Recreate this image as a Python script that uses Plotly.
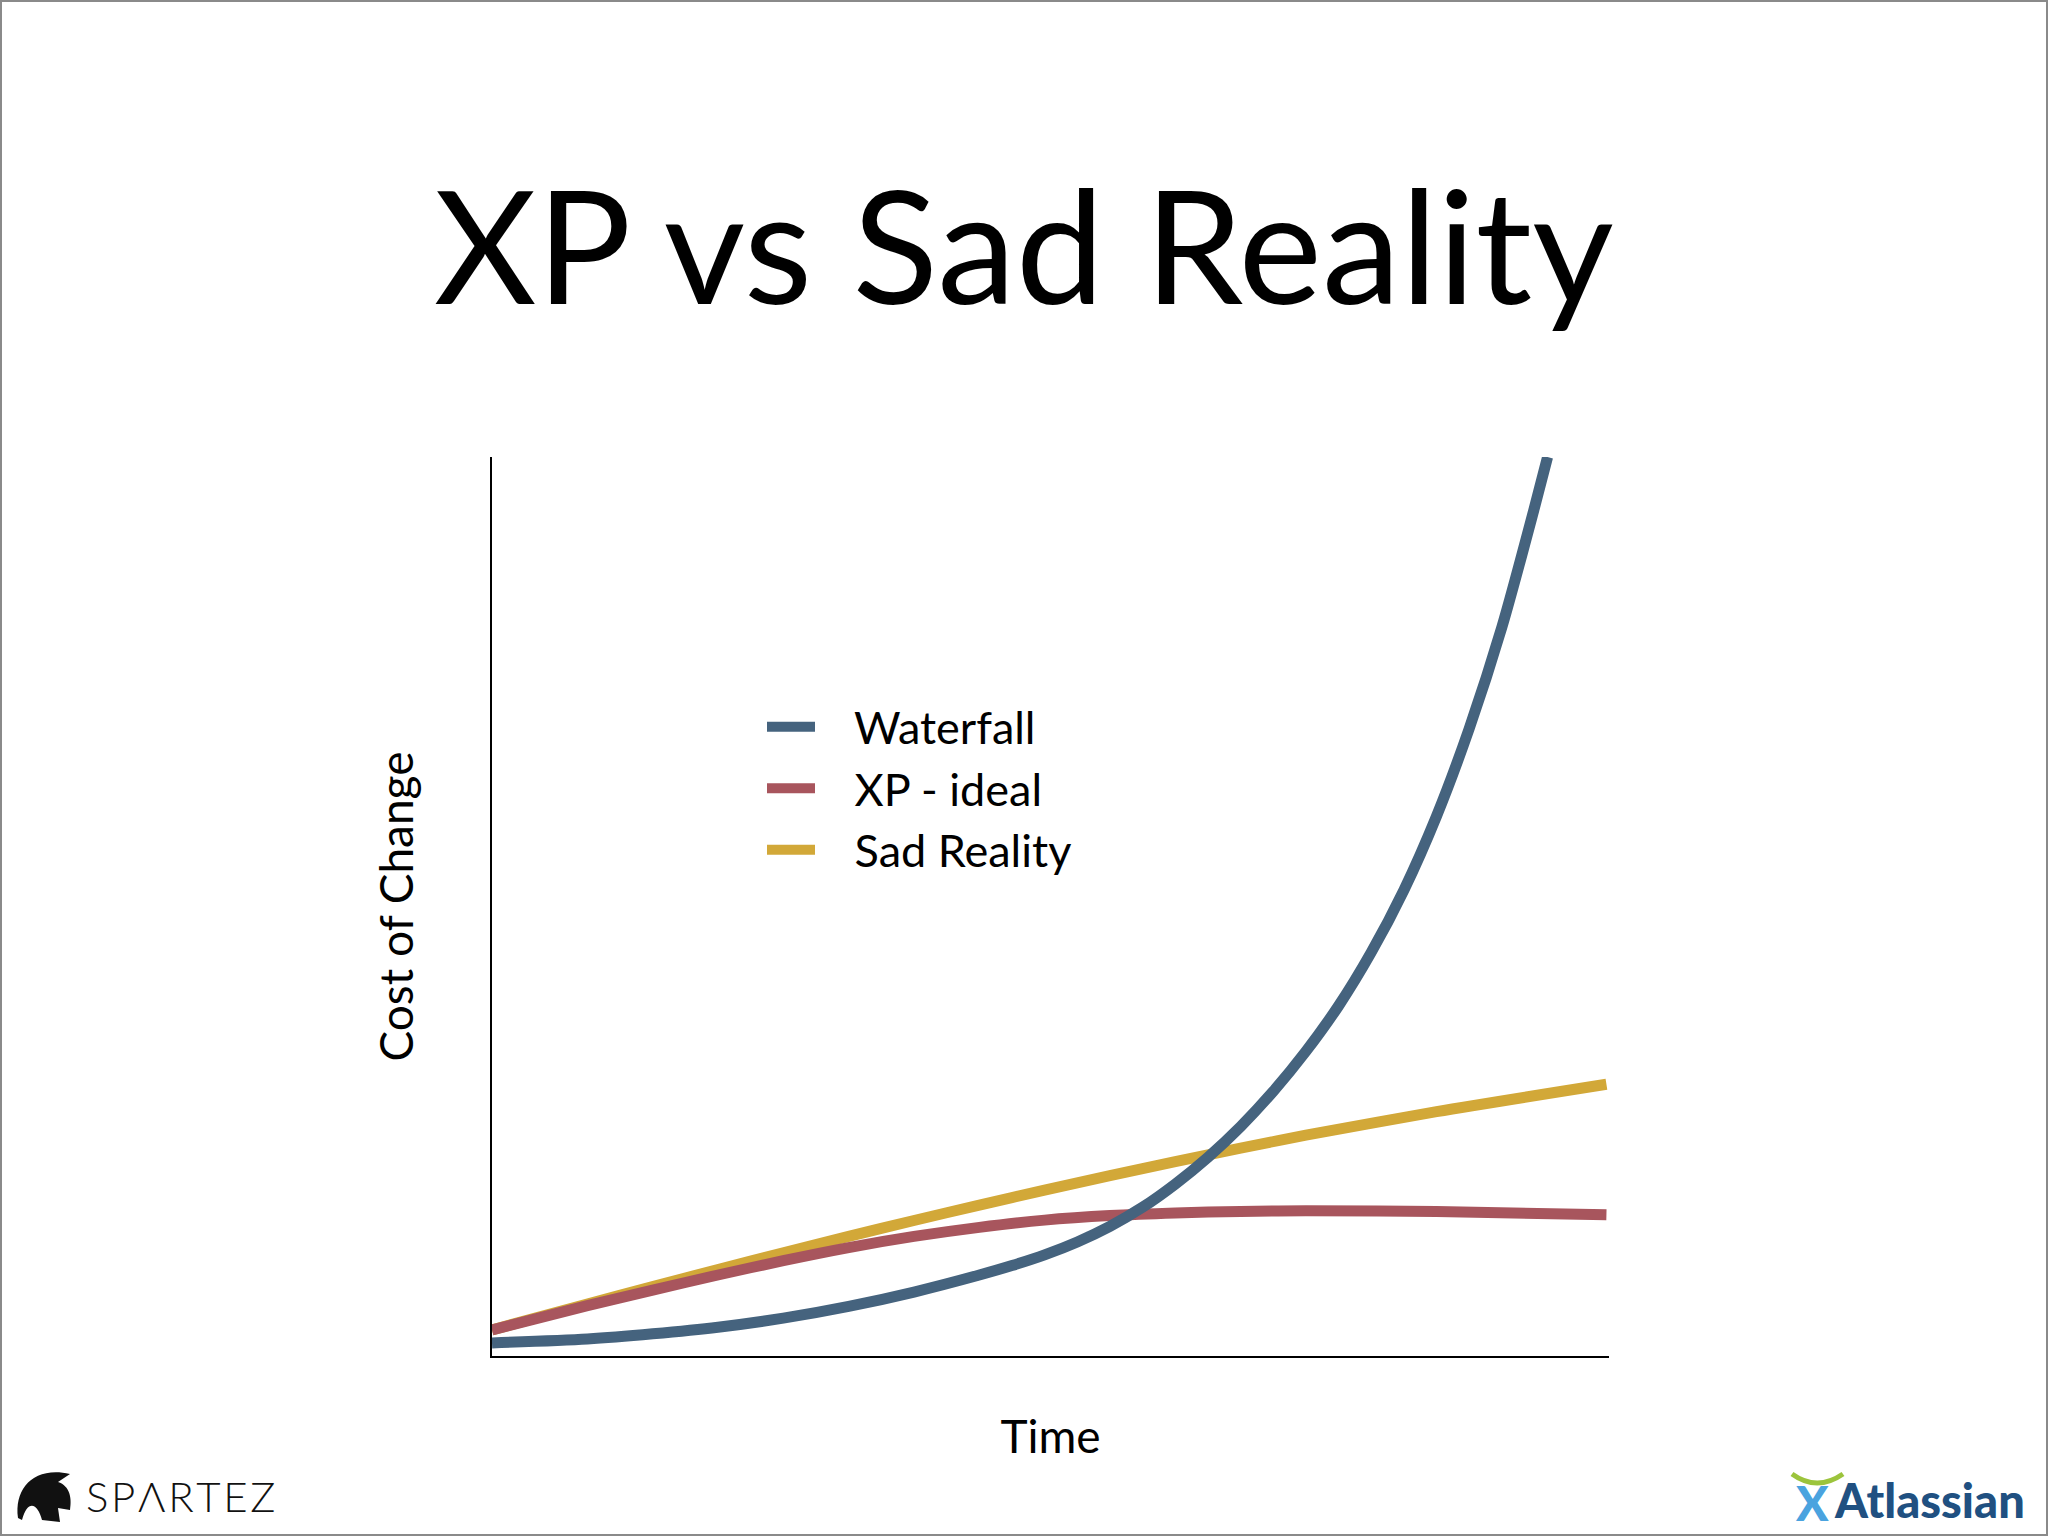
import plotly.graph_objects as go

# ---- data ----
waterfall_x = [0, 0.854, 1.439, 2.023, 2.608, 3.193, 3.778, 4.363, 4.655, 4.947, 5.240,
               5.532, 5.825, 6.117, 6.409, 6.702, 6.994, 7.287, 7.579, 7.871, 8.164,
               8.456, 8.748, 9.041, 9.333, 9.450]
waterfall_y = [0.147, 0.191, 0.249, 0.323, 0.425, 0.557, 0.718, 0.909, 1.015, 1.135, 1.280,
               1.455, 1.670, 1.930, 2.230, 2.575, 2.970, 3.420, 3.930, 4.530, 5.230,
               6.060, 7.040, 8.180, 9.523, 10.09]

xp_x = [0, 0.854, 1.439, 2.023, 2.608, 3.193, 3.778, 4.363, 4.947, 5.532, 6.117, 6.702,
        7.287, 8.456, 9.977]
xp_y = [0.293, 0.565, 0.740, 0.909, 1.070, 1.217, 1.342, 1.444, 1.525, 1.576, 1.606, 1.623,
        1.630, 1.623, 1.584]

sad_x = [0, 0.854, 1.439, 2.023, 2.608, 3.193, 3.778, 4.363, 4.947, 5.532, 6.117, 6.702,
         7.287, 8.456, 9.977]
sad_y = [0.293, 0.584, 0.779, 0.971, 1.158, 1.342, 1.521, 1.694, 1.862, 2.025, 2.182, 2.333,
         2.478, 2.742, 3.050]

series_names = ["Waterfall", "XP - ideal", "Sad Reality"]
series_colors = ["#45637e", "#a8555d", "#d2a838"]

title_text = "XP vs Sad Reality"
x_title = "Time"
y_title = "Cost of Change"

# ---- layout geometry (pixels) ----
W, H = 2048, 1536
L, R, T, B = 492, 1609, 457, 1356
FONT = "Lato"
GAP = "\u00a0\u00a0\u00a0"  # gap between legend line sample and label


def px(x):
    return (x - L) / (R - L)


def py(y):
    return (B - y) / (B - T)


fig = go.Figure()
# draw order: yellow, red, blue (blue on top)
for xs, ys, name, color in [
    (sad_x, sad_y, series_names[2], series_colors[2]),
    (xp_x, xp_y, series_names[1], series_colors[1]),
    (waterfall_x, waterfall_y, series_names[0], series_colors[0]),
]:
    fig.add_trace(go.Scatter(
        x=xs, y=ys, mode="lines", name=GAP + name,
        line=dict(color=color, width=11, shape="spline", smoothing=0.8),
        hoverinfo="skip",
    ))

fig.update_layout(
    width=W, height=H,
    margin=dict(l=L, r=W - R, t=T, b=H - B, pad=0),
    paper_bgcolor="white", plot_bgcolor="white",
    font=dict(family=FONT, color="black"),
    showlegend=True,
    legend=dict(
        x=px(762), y=py(691), xanchor="left", yanchor="top",
        traceorder="reversed",
        font=dict(family=FONT, size=45, color="black"),
        bgcolor="rgba(0,0,0,0)", itemwidth=48,
    ),
    xaxis=dict(
        range=[0, 10], showline=True, linecolor="black", linewidth=2,
        showgrid=False, zeroline=False, showticklabels=False, ticks="",
        title=dict(text=x_title, font=dict(family=FONT, size=46), standoff=64),
        automargin=False, fixedrange=True,
    ),
    yaxis=dict(
        range=[0, 10.09], showline=True, linecolor="black", linewidth=2,
        showgrid=False, zeroline=False, showticklabels=False, ticks="",
        title=dict(text=y_title, font=dict(family=FONT, size=46), standoff=62),
        automargin=False, fixedrange=True,
    ),
)

# Title
fig.add_annotation(
    text=title_text, x=px(1024), y=py(243), xref="paper", yref="paper",
    xanchor="center", yanchor="middle", showarrow=False,
    font=dict(family=FONT, size=158, color="black"),
)

# SPARTEZ logo (text + rough helmet glyph)
fig.add_annotation(
    text="S\u200aP\u200a\u039b\u200aR\u200aT\u200aE\u200aZ", x=px(84), y=py(1496),
    xref="paper", yref="paper", xanchor="left", yanchor="middle", showarrow=False,
    font=dict(family=FONT, size=42, color="#111111", weight=300),
)
hx0, hy0 = 14, 1468
helmet = (
    f"M {px(hx0+4)} {py(hy0+50)} "
    f"C {px(hx0+0)} {py(hy0+20)}, {px(hx0+20)} {py(hy0-2)}, {px(hx0+56)} {py(hy0+6)} "
    f"L {px(hx0+44)} {py(hy0+14)} "
    f"C {px(hx0+56)} {py(hy0+18)}, {px(hx0+58)} {py(hy0+30)}, {px(hx0+56)} {py(hy0+42)} "
    f"L {px(hx0+44)} {py(hy0+40)} L {px(hx0+46)} {py(hy0+54)} "
    f"L {px(hx0+28)} {py(hy0+52)} "
    f"C {px(hx0+24)} {py(hy0+36)}, {px(hx0+14)} {py(hy0+30)}, {px(hx0+8)} {py(hy0+52)} Z"
)
fig.add_shape(type="path", path=helmet, xref="paper", yref="paper",
              fillcolor="#111111", line=dict(width=0))

# Atlassian logo
fig.add_annotation(
    text="Atlassian", x=px(1832), y=py(1500), xref="paper", yref="paper",
    xanchor="left", yanchor="middle", showarrow=False,
    font=dict(family=FONT, size=47, color="#205081", weight=900),
)
fig.add_annotation(
    text="X", x=px(1812), y=py(1502), xref="paper", yref="paper",
    xanchor="center", yanchor="middle", showarrow=False,
    font=dict(family=FONT, size=48, color="#4aa3df", weight=900),
)
fig.add_shape(
    type="path",
    path=(f"M {px(1792)} {py(1474)} Q {px(1817)} {py(1492)}, {px(1843)} {py(1474)}"),
    xref="paper", yref="paper", line=dict(color="#9cc43c", width=5),
)

# page border
fig.add_shape(type="rect", x0=px(1), y0=py(1535), x1=px(2047), y1=py(1),
              xref="paper", yref="paper", line=dict(color="#8a8a8a", width=2))

fig.write_html("out.html", config={"displayModeBar": False},
               post_script="document.body.style.margin='0';")
